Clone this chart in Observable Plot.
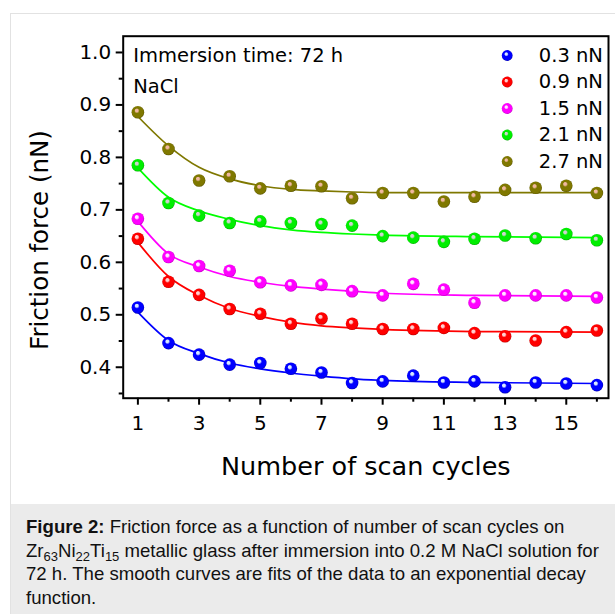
<!DOCTYPE html>
<html>
<head>
<meta charset="utf-8">
<script src="https://cdn.jsdelivr.net/npm/d3@7"></script>
<script src="https://cdn.jsdelivr.net/npm/@observablehq/plot@0.6"></script>
<style>
  html, body { margin: 0; padding: 0; background: #fff; }
  body { width: 615px; height: 614px; overflow: hidden; position: relative; font-family: "Liberation Sans", Arial, sans-serif; }
  #card { position: absolute; left: 10px; top: 13px; width: 620px; height: 620px; border: 1px solid #e2e2e2; box-sizing: border-box; }
  #chart { position: absolute; left: 0; top: 0; }
  #caption { position: absolute; left: 11px; top: 504px; width: 604px; height: 110px; background: #ebebeb; }
  #caption .txt { position: absolute; left: 15px; top: 11px; font-size: 18.6px; line-height: 23.7px; color: #111; white-space: nowrap; }
  #caption sub { font-size: 13px; line-height: 0; vertical-align: -4px; }
</style>
</head>
<body>
<div id="card"></div>
<div id="chart"></div>
<div id="caption"><div class="txt"><b>Figure 2:</b> Friction force as a function of number of scan cycles on<br>Zr<sub>63</sub>Ni<sub>22</sub>Ti<sub>15</sub> metallic glass after immersion into 0.2 M NaCl solution for<br>72 h. The smooth curves are fits of the data to an exponential decay<br>function.</div></div>
<script>
// ---- data ----
const seriesNames = ["0.3 nN", "0.9 nN", "1.5 nN", "2.1 nN", "2.7 nN"];
const cycles = [1, 2, 3, 4, 5, 6, 7, 8, 9, 10, 11, 12, 13, 14, 15, 16];
const force03 = [0.514, 0.446, 0.424, 0.405, 0.408, 0.397, 0.390, 0.370, 0.373, 0.384, 0.371, 0.373, 0.362, 0.371, 0.369, 0.366];
const force09 = [0.645, 0.563, 0.538, 0.511, 0.502, 0.483, 0.493, 0.483, 0.473, 0.473, 0.475, 0.465, 0.459, 0.451, 0.467, 0.470];
const force15 = [0.683, 0.610, 0.593, 0.584, 0.562, 0.556, 0.557, 0.545, 0.537, 0.559, 0.548, 0.523, 0.537, 0.537, 0.537, 0.533];
const force21 = [0.785, 0.713, 0.689, 0.675, 0.678, 0.675, 0.673, 0.670, 0.650, 0.647, 0.639, 0.645, 0.651, 0.646, 0.654, 0.642];
const force27 = [0.886, 0.816, 0.756, 0.764, 0.741, 0.746, 0.745, 0.722, 0.732, 0.732, 0.716, 0.725, 0.738, 0.742, 0.746, 0.732];
// fitted curves
const fitCycles = [1, 2, 3, 4, 5, 6, 7, 8, 9, 12, 16];
const fit03 = [0.505, 0.451, 0.426, 0.408, 0.397, 0.389, 0.383, 0.378, 0.375, 0.371, 0.369];
const fit09 = [0.638, 0.573, 0.537, 0.512, 0.497, 0.486, 0.479, 0.475, 0.472, 0.468, 0.467];
const fit15 = [0.678, 0.616, 0.591, 0.573, 0.562, 0.554, 0.549, 0.545, 0.541, 0.537, 0.535];
const fit21 = [0.780, 0.724, 0.698, 0.682, 0.670, 0.662, 0.657, 0.654, 0.652, 0.649, 0.647];
const fit27 = [0.878, 0.822, 0.781, 0.759, 0.746, 0.739, 0.736, 0.734, 0.733, 0.733, 0.733];
// ticks
const xMajorTicks = [1, 3, 5, 7, 9, 11, 13, 15];
const xMinorTicks = [2, 4, 6, 8, 10, 12, 14, 16];
const yMajorTicks = [0.4, 0.5, 0.6, 0.7, 0.8, 0.9, 1.0];
const yMinorTicks = [0.35, 0.45, 0.55, 0.65, 0.75, 0.85, 0.95];
const xTitle = "Number of scan cycles";
const yTitle = "Friction force (nN)";
const notes = ["Immersion time: 72 h", "NaCl"];

// ---- styles ----
const baseColors = ["#0000ff", "#ff0000", "#ff00ff", "#00ee00", "#7f7800"];
const darkColors = ["#00008a", "#9a0000", "#a000a0", "#008a00", "#4a4400"];
const hiColors = ["#d8e8ff", "#ffd0d0", "#ffe6ff", "#d0d0d0", "#f0b8a0"];
const lineColors = ["#0000ff", "#ff0000", "#ff00ff", "#00ff00", "#7f7800"];

const forces = [force03, force09, force15, force21, force27];
const fits = [fit03, fit09, fit15, fit21, fit27];
const points = [];
forces.forEach((arr, s) => arr.forEach((v, i) => points.push({s, x: cycles[i], y: v})));
const curves = [];
fits.forEach((arr, s) => arr.forEach((v, i) => curves.push({s, x: fitCycles[i], y: v})));

const svgns = "http://www.w3.org/2000/svg";
function gradientDefs() {
  const defs = document.createElementNS(svgns, "defs");
  baseColors.forEach((c, i) => {
    const g = document.createElementNS(svgns, "radialGradient");
    g.setAttribute("id", "ball" + i);
    g.setAttribute("cx", "0.5"); g.setAttribute("cy", "0.5"); g.setAttribute("r", "0.55");
    g.setAttribute("fx", "0.38"); g.setAttribute("fy", "0.32");
    [[0, hiColors[i]], [0.2, hiColors[i]], [0.38, c], [0.8, c], [1, darkColors[i]]].forEach(([o, col]) => {
      const st = document.createElementNS(svgns, "stop");
      st.setAttribute("offset", o);
      st.setAttribute("stop-color", col);
      g.appendChild(st);
    });
    defs.appendChild(g);
  });
  return defs;
}

const legendMarks = [];
seriesNames.forEach((name, i) => {
  legendMarks.push(Plot.dot([name], {x: null, y: null, frameAnchor: "top-right", dx: -101.3, dy: 19.3 + 26.5 * i, r: 5.4, fill: `url(#ball${i})`, stroke: "none"}));
  legendMarks.push(Plot.text([name], {x: null, y: null, text: d => d, frameAnchor: "top-right", dx: -69.7, dy: 19.3 + 26.5 * i, textAnchor: "start", lineAnchor: "middle", fontSize: 19.5, fill: "black"}));
});

const chart = Plot.plot({
  width: 615,
  height: 500,
  marginLeft: 122.7,
  marginRight: 7,
  marginTop: 35.7,
  marginBottom: 102.3,
  style: {background: "transparent", fontFamily: "'DejaVu Sans', sans-serif", color: "black", overflow: "visible"},
  x: {domain: [0.52, 16.38]},
  y: {domain: [0.341, 1.031]},
  marks: [
    gradientDefs,
    Plot.axisX(xMajorTicks, {tickSize: 7, tickPadding: 11, strokeWidth: 2, fontSize: 20, label: null, tickFormat: d => String(d)}),
    Plot.axisX(xMinorTicks, {tickSize: 4, strokeWidth: 2, label: null, tickFormat: () => ""}),
    Plot.axisY(yMajorTicks, {tickSize: 7, tickPadding: 5, strokeWidth: 2, fontSize: 20, label: null, tickFormat: d => d.toFixed(1)}),
    Plot.axisY(yMinorTicks, {tickSize: 4, strokeWidth: 2, label: null, tickFormat: () => ""}),
    Plot.line(curves, {x: "x", y: "y", z: "s", stroke: d => lineColors[d.s], strokeWidth: 1.7, curve: "monotone-x"}),
    Plot.dot(points, {x: "x", y: "y", r: 6.3, fill: d => `url(#ball${d.s})`, stroke: "none"}),
    Plot.text([notes[0]], {x: null, y: null, text: d => d, frameAnchor: "top-left", dx: 10, dy: 26, textAnchor: "start", lineAnchor: "bottom", fontSize: 19.5, fill: "black"}),
    Plot.text([notes[1]], {x: null, y: null, text: d => d, frameAnchor: "top-left", dx: 10, dy: 57, textAnchor: "start", lineAnchor: "bottom", fontSize: 19.5, fill: "black"}),
    ...legendMarks,
    Plot.text([xTitle], {x: null, y: null, text: d => d, frameAnchor: "bottom", dy: 76.3, lineAnchor: "bottom", textAnchor: "middle", fontSize: 25.5, fill: "black"}),
    Plot.text([yTitle], {x: null, y: null, text: d => d, frameAnchor: "left", dx: -82.7, dy: 22.8, rotate: -90, textAnchor: "middle", lineAnchor: "middle", fontSize: 24.5, fill: "black"}),
    Plot.frame({stroke: "black", strokeWidth: 2})
  ]
});
document.getElementById("chart").appendChild(chart);
</script>
</body>
</html>
